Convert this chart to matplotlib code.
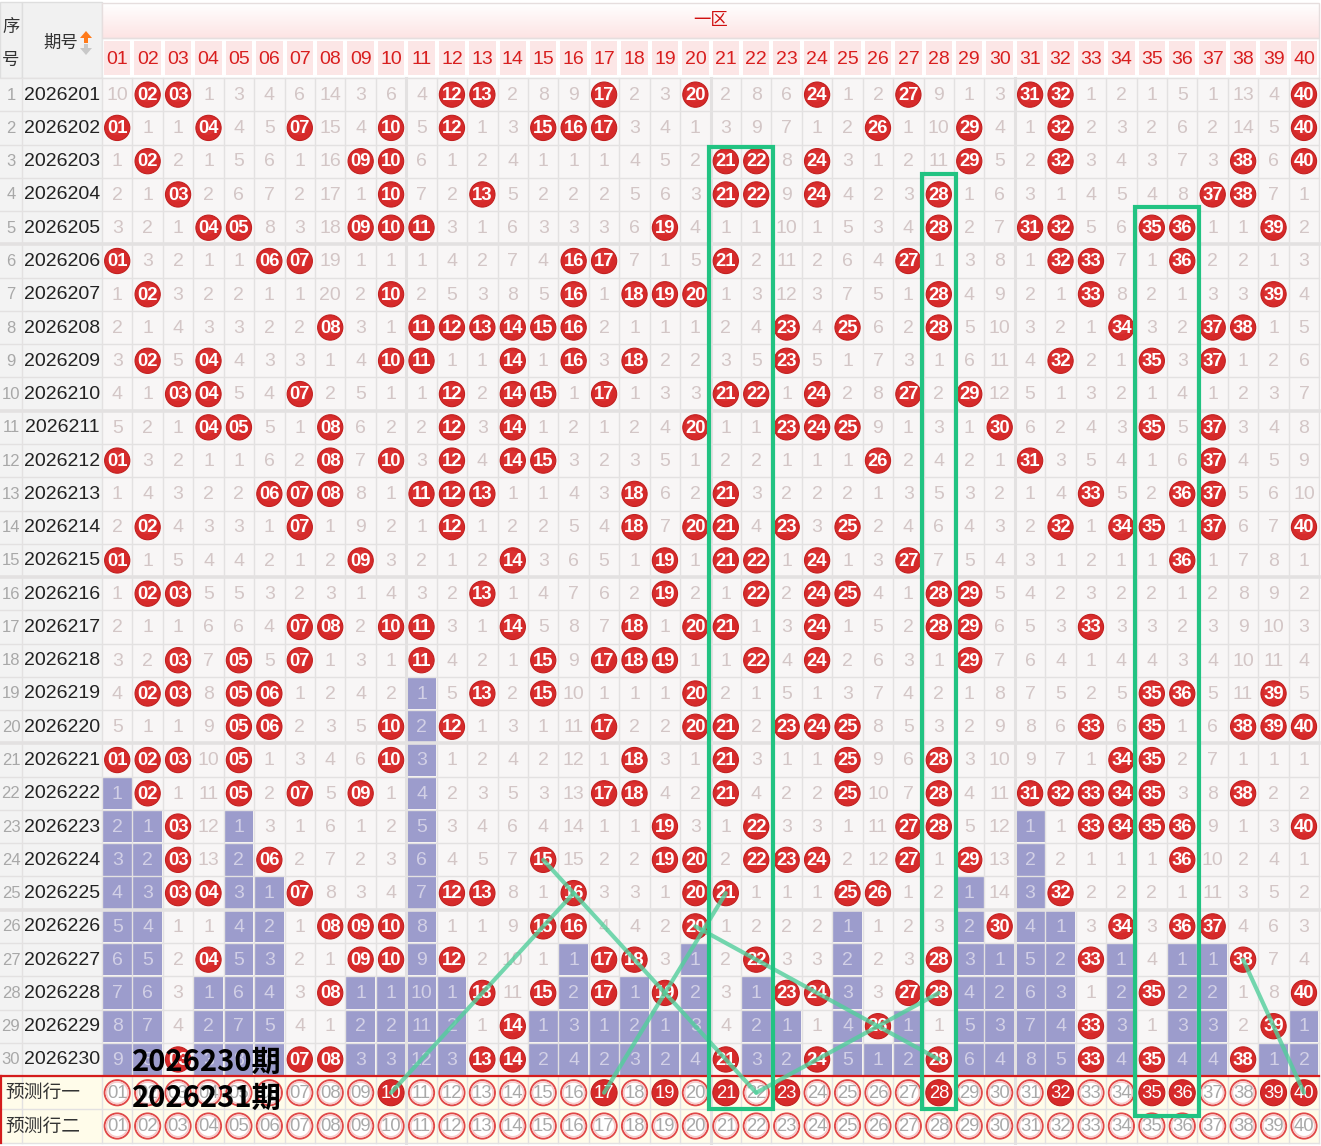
import matplotlib
matplotlib.use("Agg")
import matplotlib.pyplot as plt
from matplotlib.patches import Rectangle, Circle, Polygon
from matplotlib.colors import LinearSegmentedColormap
from matplotlib import font_manager
import numpy as np

# ---------------- data ----------------
periods = ["2026201", "2026202", "2026203", "2026204", "2026205",
           "2026206", "2026207", "2026208", "2026209", "2026210",
           "2026211", "2026212", "2026213", "2026214", "2026215",
           "2026216", "2026217", "2026218", "2026219", "2026220",
           "2026221", "2026222", "2026223", "2026224", "2026225",
           "2026226", "2026227", "2026228", "2026229", "2026230"]

draws = [
    [2, 3, 12, 13, 17, 20, 24, 27, 31, 32, 40],
    [1, 4, 7, 10, 12, 15, 16, 17, 26, 29, 32, 40],
    [2, 9, 10, 21, 22, 24, 29, 32, 38, 40],
    [3, 10, 13, 21, 22, 24, 28, 37, 38],
    [4, 5, 9, 10, 11, 19, 28, 31, 32, 35, 36, 39],
    [1, 6, 7, 16, 17, 21, 27, 32, 33, 36],
    [2, 10, 16, 18, 19, 20, 28, 33, 39],
    [8, 11, 12, 13, 14, 15, 16, 23, 25, 28, 34, 37, 38],
    [2, 4, 10, 11, 14, 16, 18, 23, 32, 35, 37],
    [3, 4, 7, 12, 14, 15, 17, 21, 22, 24, 27, 29],
    [4, 5, 8, 12, 14, 20, 23, 24, 25, 30, 35, 37],
    [1, 8, 10, 12, 14, 15, 26, 31, 37],
    [6, 7, 8, 11, 12, 13, 18, 21, 33, 36, 37],
    [2, 7, 12, 18, 20, 21, 23, 25, 32, 34, 35, 37, 40],
    [1, 9, 14, 19, 21, 22, 24, 27, 36],
    [2, 3, 13, 19, 22, 24, 25, 28, 29],
    [7, 8, 10, 11, 14, 18, 20, 21, 24, 28, 29, 33],
    [3, 5, 7, 11, 15, 17, 18, 19, 22, 24, 29],
    [2, 3, 5, 6, 13, 15, 20, 35, 36, 39],
    [5, 6, 10, 12, 17, 20, 21, 23, 24, 25, 33, 35, 38, 39, 40],
    [1, 2, 3, 5, 10, 18, 21, 25, 28, 34, 35],
    [2, 5, 7, 9, 17, 18, 21, 25, 28, 31, 32, 33, 34, 35, 38],
    [3, 19, 22, 27, 28, 33, 34, 35, 36, 40],
    [3, 6, 15, 19, 20, 22, 23, 24, 27, 29, 36],
    [3, 4, 7, 12, 13, 16, 20, 21, 25, 26, 32],
    [8, 9, 10, 15, 16, 20, 30, 34, 36, 37],
    [4, 9, 10, 12, 17, 18, 22, 28, 33, 38],
    [8, 13, 15, 17, 19, 23, 24, 27, 28, 35, 40],
    [14, 26, 33, 39],
    [3, 7, 8, 13, 14, 21, 24, 28, 33, 35, 38],
]

# omission values shown in the first row (0 = drawn)
first_row_omission = [10, 0, 0, 1, 3, 4, 6, 14, 3, 6,
                      4, 0, 0, 2, 8, 9, 0, 2, 3, 0,
                      2, 8, 6, 0, 1, 2, 0, 9, 1, 3,
                      0, 0, 1, 2, 1, 5, 1, 13, 4, 0]

numbers = [f"{n:02d}" for n in range(1, 41)]
zone_title = "一区"
pred_labels = ["预测行一", "预测行二"]
pred_row1_hits = [10, 17, 19, 21, 23, 28, 32, 35, 36, 39, 40]
pred_row2_hits = []
overlay_texts = ["2026230期", "2026231期"]

highlight_cols = [[21, 22], [28], [35, 36]]
highlight_start_rows = [3, 4, 5]
# trend lines: (column, row) endpoints, row 31 = 预测行一
trend_lines = [((10, 31), (16, 25)),
               ((15, 24), (22, 31)),
               ((17, 31), (21, 25)),
               ((20, 26), (28, 30)),
               ((22, 31), (28, 28)),
               ((38, 27), (40, 31))]

# ---------------- derived ----------------
n_rows = len(periods)
n_cols = len(numbers)
hit = np.zeros((n_rows, n_cols), bool)
for r, row in enumerate(draws):
    for n in row:
        hit[r, n - 1] = True
omit = np.zeros((n_rows, n_cols), int)
for c in range(n_cols):
    for r in range(n_rows):
        if hit[r, c]:
            omit[r, c] = 0
        elif r == 0:
            omit[r, c] = first_row_omission[c]
        else:
            omit[r, c] = omit[r - 1, c] + 1
last_hit = [max(np.nonzero(hit[:, c])[0]) for c in range(n_cols)]

# ---------------- fonts ----------------
names = {f.name for f in font_manager.fontManager.ttflist}
if "Liberation Sans Narrow" in names:
    NARROW = "Liberation Sans Narrow"
    FS = dict(ball=15, omit=15, period=16, idx=15, head=15, pred=15)
else:
    NARROW = "Liberation Sans"
    FS = dict(ball=13.3, omit=14, period=14, idx=12, head=14, pred=13.3)
CJK = "Noto Sans CJK SC"
NF = [NARROW, "DejaVu Sans"]
CF = [CJK, "DejaVu Sans"]

# ---------------- geometry ----------------
W, H = 1321, 1146
X0, CW = 102.0, 30.43
Y0, RH = 78.0, 33.27
XR = X0 + CW * n_cols


def cx(k):
    return X0 + CW * (k - 0.5)


def cy(r):
    return Y0 + RH * (r - 0.5)


fig = plt.figure(figsize=(W / 100, H / 100), dpi=100)
ax = fig.add_axes([0, 0, 1, 1])
ax.set_xlim(0, W)
ax.set_ylim(H, 0)
ax.axis("off")
fig.patch.set_facecolor("white")

# header backgrounds
ax.add_patch(Rectangle((0, 2), 22, 76, fc="#f1f1f1", ec="#dedede", lw=1, zorder=1))
ax.add_patch(Rectangle((22, 2), 80, 76, fc="#f1f1f1", ec="#dedede", lw=1, zorder=1))
grad = np.linspace(0, 1, 50).reshape(-1, 1)
cm = LinearSegmentedColormap.from_list("pk", ["#ffffff", "#fde4e4"])
ax.imshow(grad, extent=(X0, XR, 38, 3), cmap=cm, aspect="auto", zorder=1)
ax.add_patch(Rectangle((X0, 3), XR - X0, 35, fc="none", ec="#e6dede", lw=1, zorder=2))
ax.text((X0 + XR) / 2, 20, zone_title, ha="center", va="center", fontsize=12.5,
        color="#d01010", family=CF, zorder=5)
ax.add_patch(Rectangle((X0, 38), XR - X0, 40, fc="#ffffff", ec="#e6e6e6", lw=1, zorder=1))
for k in range(1, n_cols + 1):
    ax.add_patch(Rectangle((X0 + CW * (k - 1) + 2, 41), CW - 4, 34, fc="#fce6e6",
                           ec="none", zorder=2))
    ax.text(cx(k), 59, numbers[k - 1], ha="center", va="center", fontsize=FS["head"],
            color="#d81e1e", family=NF, zorder=5)

ax.text(11, 27, "序", ha="center", va="center", fontsize=12.5, color="#333333",
        family=CF, zorder=5)
ax.text(11, 60, "号", ha="center", va="center", fontsize=12.5, color="#333333",
        family=CF, zorder=5)
ax.text(61, 43, "期号", ha="center", va="center", fontsize=12.5, color="#333333",
        family=CF, zorder=5)
# sort arrows
ax.add_patch(Polygon([[80, 38], [86, 31], [92, 38]], closed=True, fc="#ff7a1a", ec="none", zorder=5))
ax.add_patch(Rectangle((84, 37.5), 4, 5, fc="#ff7a1a", ec="none", zorder=5))
ax.add_patch(Polygon([[80, 48], [86, 55], [92, 48]], closed=True, fc="#c8c8c8", ec="none", zorder=5))
ax.add_patch(Rectangle((84, 43.5), 4, 5, fc="#c8c8c8", ec="none", zorder=5))

# data area background
ax.add_patch(Rectangle((0, Y0), 102, RH * n_rows, fc="#f3f3f3", ec="none", zorder=1))
ax.add_patch(Rectangle((X0, Y0), XR - X0, RH * n_rows, fc="#f8f6f6", ec="none", zorder=1))
ax.add_patch(Rectangle((0, Y0 + RH * n_rows), XR, RH * 2, fc="#fffcea", ec="none", zorder=1))

# purple omission layers
for c in range(n_cols):
    for r in range(last_hit[c] + 1, n_rows):
        ax.add_patch(Rectangle((X0 + CW * c + 0.8, Y0 + RH * r + 0.8), CW - 1.6, RH - 1.6,
                               fc="#9c9ccc", ec="none", zorder=2))

# grid lines
ytop, ybot = 78, Y0 + RH * (n_rows + 2)
for k in range(n_cols + 1):
    x = X0 + CW * k
    lw = 2.2 if k in (10, 20, 30) else 1.0
    ax.plot([x, x], [ytop, ybot], color="#e3e1e1", lw=lw, zorder=3)
ax.plot([22, 22], [ytop, ybot], color="#e3e1e1", lw=1.0, zorder=3)
for r in range(n_rows + 3):
    y = Y0 + RH * r
    lw = 2.6 if r in (5, 10, 15, 20, 25) else 1.0
    ax.plot([0, XR], [y, y], color="#e3e1e1", lw=lw, zorder=3)

# rows
for r in range(n_rows):
    y = cy(r + 1)
    ax.text(11, y + 0.5, str(r + 1), ha="center", va="center", fontsize=FS["idx"],
            color="#a8a8a8", family=NF, zorder=5)
    ax.text(62, y + 0.5, periods[r], ha="center", va="center", fontsize=FS["period"],
            color="#222222", family=NF, zorder=5)
    for c in range(n_cols):
        x = cx(c + 1)
        if hit[r, c]:
            ax.add_patch(Circle((x, y), 12.6, fc="#d62a2a", ec="#c21f1f", lw=0.8, zorder=4))
            ax.add_patch(Circle((x - 1, y - 1.5), 8.5, fc="#e03838", ec="none", alpha=0.6, zorder=4))
            ax.text(x, y + 0.8, numbers[c], ha="center", va="center", fontsize=FS["ball"],
                    fontweight="bold", color="white", family=NF, zorder=5)
        else:
            purple = r > last_hit[c]
            ax.text(x, y + 0.8, str(omit[r, c]), ha="center", va="center", fontsize=FS["omit"],
                    color="#d2d0e6" if purple else "#d3c6c6", family=NF, zorder=5)

# prediction rows
for i, (lab, hits) in enumerate(zip(pred_labels, [pred_row1_hits, pred_row2_hits])):
    y = cy(n_rows + 1 + i)
    ax.text(43, y, lab, ha="center", va="center", fontsize=13.5, color="#333333",
            family=CF, zorder=5)
    for c in range(n_cols):
        x = cx(c + 1)
        if (c + 1) in hits:
            ax.add_patch(Circle((x, y), 13, fc="#d62a2a", ec="#c21f1f", lw=0.8, zorder=4))
            ax.text(x, y + 0.8, numbers[c], ha="center", va="center", fontsize=FS["pred"],
                    color="white", family=NF, zorder=5)
        else:
            ax.add_patch(Circle((x, y), 12.6, fc="white", ec="#e04848", lw=1.4, zorder=4))
            ax.add_patch(Circle((x, y), 10.8, fc="none", ec="#f6caca", lw=1.2, zorder=4))
            ax.text(x, y + 0.8, numbers[c], ha="center", va="center", fontsize=FS["pred"],
                    color="#a9a9a9", family=NF, zorder=5)

# red border of prediction area
yp = Y0 + RH * n_rows
ax.plot([0, XR], [yp, yp], color="#d41c1c", lw=1.6, zorder=6)
ax.plot([1, 1], [yp, ybot], color="#d41c1c", lw=1.6, zorder=6)

# trend lines
for (c1, r1), (c2, r2) in trend_lines:
    ax.plot([cx(c1), cx(c2)], [cy(r1), cy(r2)], color="#52cf9c", lw=3.0, alpha=0.8,
            solid_capstyle="round", zorder=6)

# highlight rectangles
for cols, r0 in zip(highlight_cols, highlight_start_rows):
    xl = X0 + CW * (min(cols) - 1) - 2
    xr = X0 + CW * max(cols) + 1.5
    yt = Y0 + RH * (r0 - 1) + (2 if r0 == 3 else -4)
    yb = Y0 + RH * (n_rows + 1)
    if min(cols) > 30:
        yb += 7
    ax.add_patch(Rectangle((xl, yt), xr - xl, yb - yt, fc="none", ec="#22c382",
                           lw=3.0, zorder=7))

# overlay texts
ax.text(132, cy(n_rows) + 2, overlay_texts[0], ha="left", va="center", fontsize=21,
        fontweight="bold", color="black", family=CF, zorder=8)
ax.text(132, cy(n_rows + 1) + 5, overlay_texts[1], ha="left", va="center", fontsize=21,
        fontweight="bold", color="black", family=CF, zorder=8)

fig.savefig("out.png", dpi=100)
